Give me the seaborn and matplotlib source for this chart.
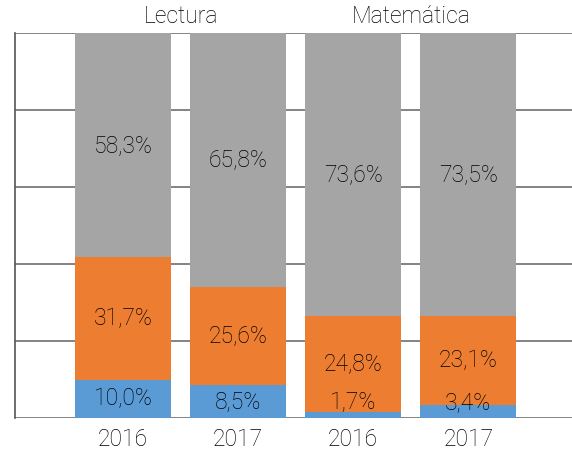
import pandas as pd
import seaborn as sns
import matplotlib.pyplot as plt

sns.set_style("white")
plt.rcParams["font.family"] = ["Roboto", "DejaVu Sans"]

# data
bar_ids = ["L2016", "L2017", "M2016", "M2017"]
years = ["2016", "2017", "2016", "2017"]
groups = ["Lectura", "Matemática"]
low = [10.0, 8.5, 1.7, 3.4]
mid = [31.7, 25.6, 24.8, 23.1]
high = [58.3, 65.8, 73.6, 73.5]

colors = ["#5B9BD5", "#ED7D31", "#A5A5A5"]
txt = "#000000"
fs = 16.5

df = pd.DataFrame({"bar": bar_ids, "low": low, "mid": mid, "high": high})
df["base_mid"] = df["low"]
df["base_high"] = df["low"] + df["mid"]

fig = plt.figure(figsize=(5.72, 4.5), dpi=100)
ax = fig.add_axes([0.026, 0.071, 0.974, 0.856])

for col, base, c in [("low", None, colors[0]), ("mid", "base_mid", colors[1]),
                     ("high", "base_high", colors[2])]:
    kw = {} if base is None else {"bottom": df[base]}
    sns.barplot(data=df, x="bar", y=col, color=c, width=0.835, ax=ax,
                saturation=1, linewidth=0, **kw)

# segment labels
for i in range(len(bar_ids)):
    starts = [0, low[i], low[i] + mid[i]]
    for v, s in zip([low[i], mid[i], high[i]], starts):
        y = max(s + v / 2, 3.9)
        ax.text(i, y, f"{v:.1f}%".replace(".", ","), ha="center", va="center",
                fontsize=fs, fontweight="light", color=txt)

# group labels
for j, g in enumerate(groups):
    ax.text(2 * j + 0.5, 101.3, g, ha="center", va="bottom", fontsize=fs,
            fontweight="light", color=txt)

ax.set_xlim(-0.94, 3.9)
ax.set_ylim(0, 100)
ax.set_yticks([0, 20, 40, 60, 80, 100])
ax.set_yticklabels([])
ax.yaxis.grid(True, color="#6e6e6e", linewidth=1.2)
ax.set_axisbelow(True)
ax.set_xticks(range(len(years)))
ax.set_xticklabels(years, fontsize=fs, fontweight="light", color=txt)
ax.tick_params(axis="x", length=0, pad=7)
ax.tick_params(axis="y", length=0)
ax.set_xlabel("")
ax.set_ylabel("")
for s in ["top", "right", "bottom"]:
    ax.spines[s].set_visible(False)
ax.spines["left"].set_color("#555555")
ax.spines["left"].set_linewidth(1.2)

fig.savefig("out.png", dpi=100)
